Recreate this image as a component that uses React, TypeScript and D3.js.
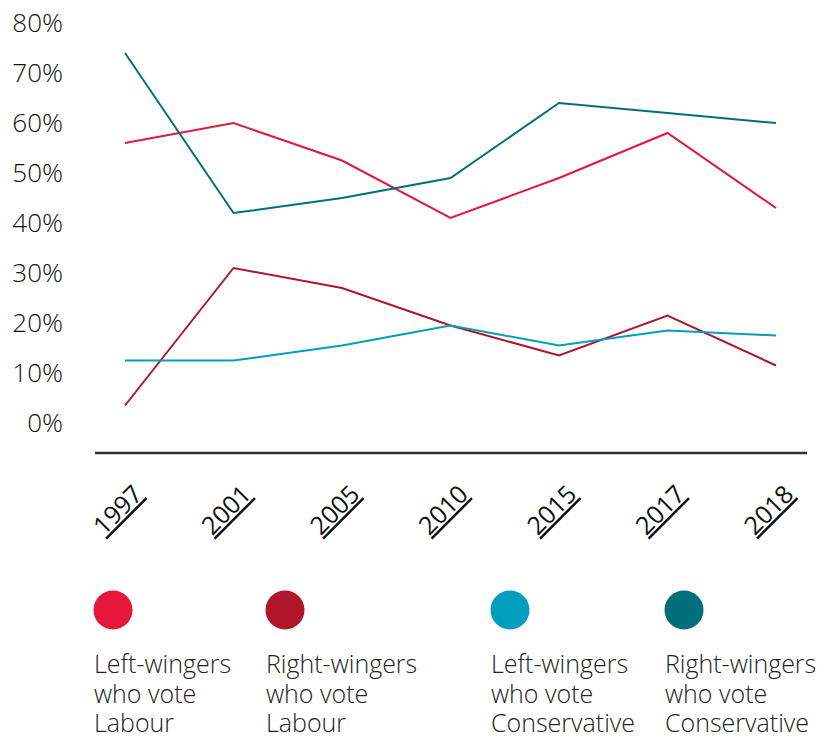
import * as d3 from 'd3'
import React, { useEffect, useRef } from 'react'

const years = ['1997', '2001', '2005', '2010', '2015', '2017', '2018']
const leftLabour = [56, 60, 52.5, 41, 49, 58, 43]
const rightLabour = [3.5, 31, 27, 19.5, 13.5, 21.5, 11.5]
const leftConservative = [12.5, 12.5, 15.5, 19.5, 15.5, 18.5, 17.5]
const rightConservative = [74, 42, 45, 49, 64, 62, 60]
const yTicks = [0, 10, 20, 30, 40, 50, 60, 70, 80]

const series = [
  { name: ['Left-wingers', 'who vote', 'Labour'], values: leftLabour, color: '#e5173a' },
  { name: ['Right-wingers', 'who vote', 'Labour'], values: rightLabour, color: '#b01629' },
  { name: ['Left-wingers', 'who vote', 'Conservative'], values: leftConservative, color: '#009fbd' },
  { name: ['Right-wingers', 'who vote', 'Conservative'], values: rightConservative, color: '#006f7b' }
]
const legendX = [113, 285, 510, 684]

export default function App() {
  const sandbox = useRef<SVGSVGElement>(null)

  useEffect(() => {
    const svg = d3.select(sandbox.current)
    svg.selectAll('*').remove()

    const x = d3.scalePoint().domain(years).range([125, 776])
    const y = d3.scaleLinear().domain([0, 80]).range([423, 23])

    // y labels
    svg
      .append('g')
      .selectAll('text')
      .data(yTicks)
      .join('text')
      .attr('x', 63)
      .attr('y', d => y(d))
      .attr('dy', '0.36em')
      .attr('text-anchor', 'end')
      .attr('font-family', 'Open Sans, sans-serif')
      .attr('font-weight', 300)
      .attr('font-size', 26)
      .attr('fill', '#111')
      .text(d => d + '%')

    // baseline
    svg
      .append('line')
      .attr('x1', 95)
      .attr('x2', 807)
      .attr('y1', 453)
      .attr('y2', 453)
      .attr('stroke', '#333')
      .attr('stroke-width', 2.5)

    // year labels
    svg
      .append('g')
      .selectAll('text')
      .data(years)
      .join('text')
      .attr('transform', d => `translate(${x(d)! - 1},${516}) rotate(-45)`)
      .attr('text-anchor', 'middle')
      .attr('font-family', 'Open Sans, sans-serif')
      .attr('font-size', 25)
      .attr('fill', '#111')
      .style('text-decoration', 'underline')
      .style('text-decoration-thickness', '1px')
      .style('text-underline-offset', '4px')
      .text(d => d)

    // lines
    const line = d3
      .line<number>()
      .x((_, i) => x(years[i])!)
      .y(d => y(d))

    series.forEach(s => {
      svg
        .append('path')
        .attr('d', line(s.values))
        .attr('fill', 'none')
        .attr('stroke', s.color)
        .attr('stroke-width', 2)
    })

    // legend
    series.forEach((s, i) => {
      svg
        .append('circle')
        .attr('cx', legendX[i])
        .attr('cy', 610)
        .attr('r', 19.5)
        .attr('fill', s.color)

      svg
        .append('text')
        .attr('x', legendX[i] - 19)
        .attr('y', 673)
        .attr('font-family', 'Open Sans, sans-serif')
        .attr('font-weight', 300)
        .attr('font-size', 25)
        .attr('fill', '#222')
        .selectAll('tspan')
        .data(s.name)
        .join('tspan')
        .attr('x', legendX[i] - 19)
        .attr('dy', (_, j) => (j === 0 ? 0 : 29.5))
        .text(d => d)
    })
  }, [])

  return (
    <svg
      ref={sandbox}
      width="837"
      height="740"
      style={{ position: 'absolute', left: 0, top: 0 }}
    />
  )
}
